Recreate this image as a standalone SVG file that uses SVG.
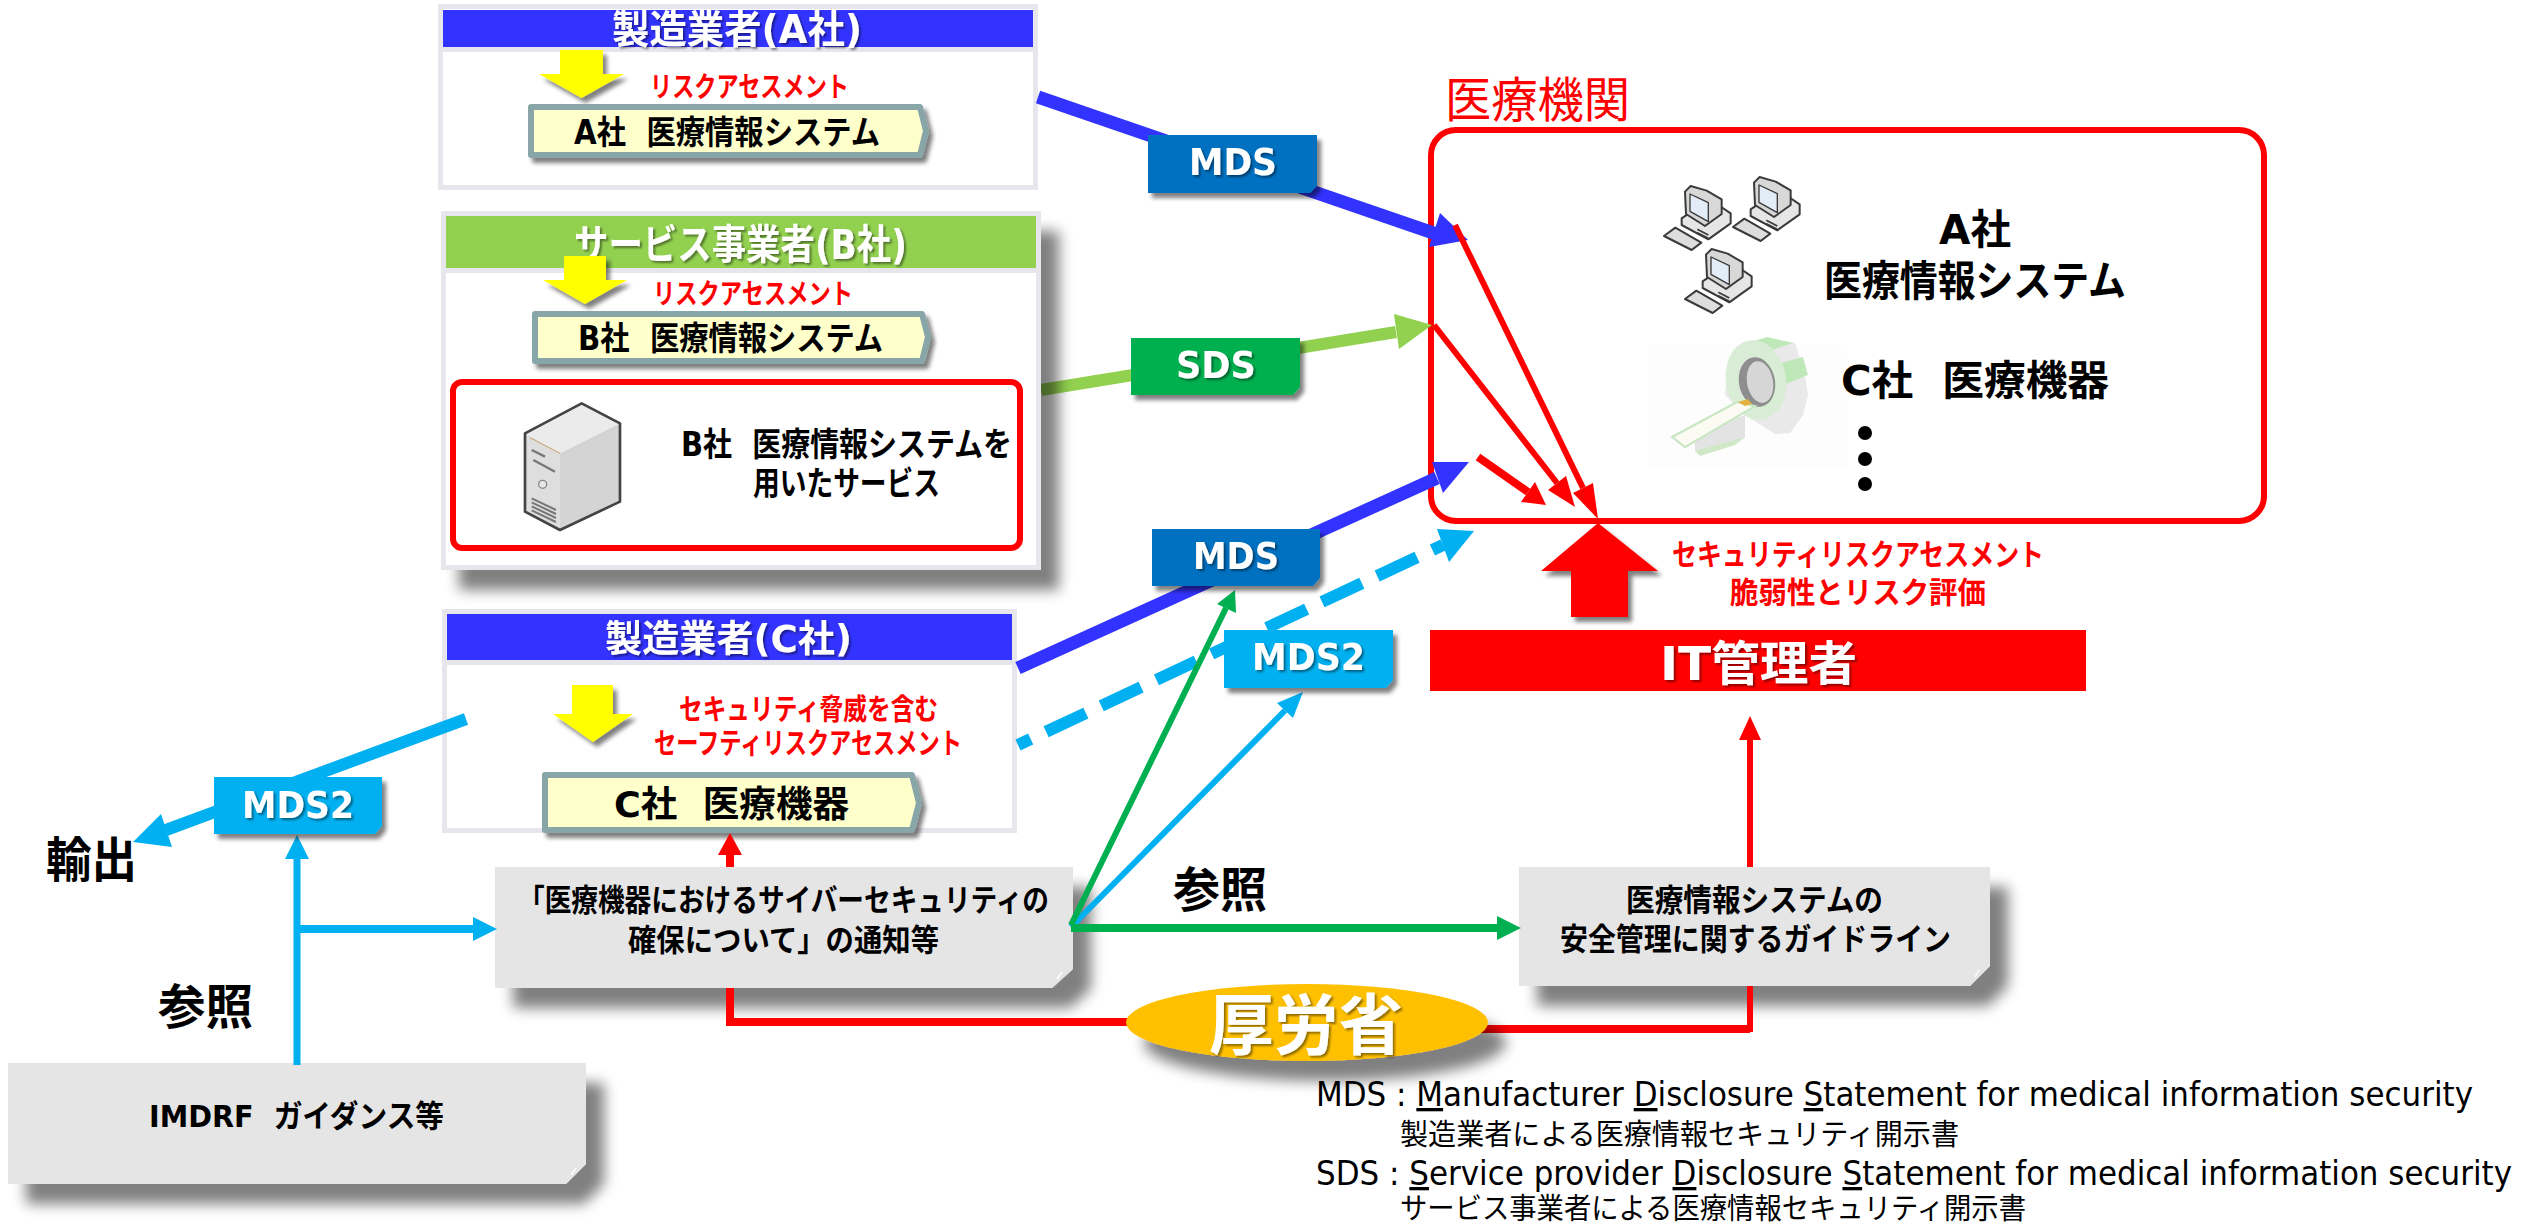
<svg xmlns="http://www.w3.org/2000/svg" width="2522" height="1226" viewBox="0 0 2522 1226">
<style>
text{font-family:"DejaVu Sans","Noto Sans CJK JP",sans-serif;white-space:pre}
.b{font-weight:700}
.w{fill:#fff}.k{fill:#000}.r{fill:#f00}
.frame{fill:#fff;stroke:#e7e6ec;stroke-width:5}
.band{fill:#e7e6ec}
.pent{fill:#ffc;stroke:#88a5a8;stroke-width:6;stroke-linejoin:round}
.yel{fill:#ff0}
.grey{fill:#e5e5e5}
.fold{fill:none;stroke:#fff;stroke-width:1.5}
.blue{stroke:#33f;fill:none}.bluef{fill:#33f}
.sky{stroke:#00b0f0;fill:none}.skyf{fill:#00b0f0}
.lime{stroke:#92d050;fill:none}.limef{fill:#92d050}
.grn{stroke:#00b050;fill:none}.grnf{fill:#00b050}
.red{stroke:#f00;fill:none}.redf{fill:#f00}
.u{text-decoration:underline}
</style>
<defs>
<filter id="sm" x="-20%" y="-20%" width="150%" height="150%"><feGaussianBlur in="SourceAlpha" stdDeviation="2"/><feOffset dx="4" dy="5"/><feComponentTransfer><feFuncA type="linear" slope=".5"/></feComponentTransfer><feMerge><feMergeNode/><feMergeNode in="SourceGraphic"/></feMerge></filter>
<filter id="lg" x="-15%" y="-20%" width="135%" height="170%"><feGaussianBlur in="SourceAlpha" stdDeviation="7"/><feOffset dx="18" dy="20"/><feComponentTransfer><feFuncA type="linear" slope=".5"/></feComponentTransfer><feMerge><feMergeNode/><feMergeNode in="SourceGraphic"/></feMerge></filter>
<filter id="ts" x="-10%" y="-20%" width="120%" height="140%"><feGaussianBlur in="SourceAlpha" stdDeviation="1"/><feOffset dx="1.5" dy="2"/><feComponentTransfer><feFuncA type="linear" slope=".45"/></feComponentTransfer><feMerge><feMergeNode/><feMergeNode in="SourceGraphic"/></feMerge></filter>
<g id="pc" transform="scale(.3333)" stroke="#3a3a3a" stroke-width="6" stroke-linejoin="round">
<path d="M125 145L150 128 235 105 272 130 272 160 205 208 125 165Z" fill="#e6e6e6"/>
<path d="M135 65L152 48 200 62 245 88 245 132 195 168 138 132Z" fill="#d8d8d8"/>
<path d="M150 72L205 98 205 155 150 124Z" fill="#e3edf8" stroke-width="4"/>
<path d="M172 178L205 195M172 188L205 205" stroke-width="5"/>
<path d="M72 198L106 173 184 218 155 240Z" fill="#ddd"/>
</g>
</defs>

<g id="hospital">
<rect x="1431" y="130" width="833" height="391" rx="25" fill="#fff" stroke="#f00" stroke-width="6"/>
<text class="r" x="1445" y="117" font-size="48" textLength="185" lengthAdjust="spacingAndGlyphs">医療機関</text>
<g id="computers">
<use href="#pc" x="1640" y="170"/>
<use href="#pc" x="1709" y="161"/>
<use href="#pc" x="1661" y="233"/>
</g>
<g id="ct-scanner">
<rect x="1648" y="345" width="199" height="125" fill="#fdfdfd"/>
<path d="M1695 432L1745 415 1745 438 1695 452Z" fill="#e3e3e3"/>
<path d="M1695 451L1745 437 1735 445 1700 456Z" fill="#cfe8c8"/>
<path d="M1745 346L1767 338 1795 343 1805 375 1808 395 1803 415 1790 433 1775 434 1745 415 1725 395 1728 365Z" fill="#e9e9e9"/>
<path d="M1745 344L1767 337 1793 343 1772 350Z" fill="#bfe8b8"/>
<path d="M1777 364L1803 357 1808 375 1783 385Z" fill="#bfe8b8"/>
<ellipse cx="1756" cy="380" rx="30" ry="40" fill="#d9ecd6" transform="rotate(-10 1756 380)"/>
<ellipse cx="1757" cy="382" rx="18" ry="25" fill="#8e8e8e" transform="rotate(-10 1757 382)"/>
<ellipse cx="1760" cy="382" rx="13" ry="21" fill="#d6d6d6" transform="rotate(-10 1760 382)"/>
<path d="M1672 437L1737 402 1755 406 1685 447Z" fill="#fbfbf3" stroke="#c5e6c0" stroke-width="2"/>
<path d="M1738 402L1748 399 1752 404 1745 406Z" fill="#e0b040"/>
</g>
<text class="b k" x="1939" y="244" font-size="41" textLength="72" lengthAdjust="spacingAndGlyphs">A社</text>
<text class="b k" x="1824" y="296" font-size="42" textLength="302" lengthAdjust="spacingAndGlyphs">医療情報システム</text>
<text class="b k" x="1841" y="395" font-size="41" textLength="268" lengthAdjust="spacingAndGlyphs">C社  医療機器</text>
<circle cx="1865" cy="433" r="7"/><circle cx="1865" cy="459" r="7"/><circle cx="1865" cy="484" r="7"/>
</g>

<g id="manufacturer-a">
<rect class="frame" x="440.5" y="6.5" width="595" height="181"/>
<rect x="443" y="10" width="590" height="37" fill="#33f"/>
<rect class="band" x="443" y="47" width="590" height="5"/>
<text class="b w" filter="url(#ts)" x="612" y="43" font-size="39" textLength="250" lengthAdjust="spacingAndGlyphs">製造業者(A社)</text>
<polygon class="yel" filter="url(#sm)" points="560,50 603,50 603,74 624,74 581.500,98 539,74 560,74"/>
<text class="b r" x="650" y="97" font-size="28" textLength="199" lengthAdjust="spacingAndGlyphs">リスクアセスメント</text>
<polygon class="pent" filter="url(#sm)" points="531,107 920,107 926,131 920,155 531,155"/>
<text class="b k" x="574" y="144" font-size="33" textLength="306" lengthAdjust="spacingAndGlyphs">A社  医療情報システム</text>
</g>

<g id="manufacturer-c">
<rect class="frame" x="444.500" y="611.500" width="570" height="219"/>
<rect x="447" y="614" width="565" height="46" fill="#33f"/>
<rect class="band" x="447" y="660" width="565" height="5"/>
<text class="b w" filter="url(#ts)" x="605" y="652" font-size="37" textLength="247" lengthAdjust="spacingAndGlyphs">製造業者(C社)</text>
<polygon class="yel" filter="url(#sm)" points="572,685 613,685 613,714 633,714 593,742 553,714 572,714"/>
<text class="b r" x="679" y="720" font-size="29" textLength="259" lengthAdjust="spacingAndGlyphs">セキュリティ脅威を含む</text>
<text class="b r" x="654" y="754" font-size="29" textLength="308" lengthAdjust="spacingAndGlyphs">セーフティリスクアセスメント</text>
<polygon class="pent" filter="url(#sm)" points="545,775 912,775 919,803 912,830 545,830"/>
<text class="b k" x="614" y="817" font-size="36" textLength="235" lengthAdjust="spacingAndGlyphs">C社  医療機器</text>
</g>

<g id="notification">
<polygon class="grey" filter="url(#lg)" points="495,867 1073,867 1073,969 1052,988 495,988"/>
<path class="fold" d="M1057 979L1062 972"/>
<text class="b k" x="518" y="911" font-size="31" textLength="531" lengthAdjust="spacingAndGlyphs">「医療機器におけるサイバーセキュリティの</text>
<text class="b k" x="628" y="951" font-size="31" textLength="311" lengthAdjust="spacingAndGlyphs">確保について」の通知等</text>
</g>

<g id="imdrf">
<polygon class="grey" filter="url(#lg)" points="8,1063 586,1063 586,1164 566,1184 8,1184"/>
<path class="fold" d="M571 1175L576 1168"/>
<text class="b k" x="149" y="1127" font-size="31" textLength="295" lengthAdjust="spacingAndGlyphs">IMDRF  ガイダンス等</text>
</g>

<g id="guideline">
<polygon class="grey" filter="url(#lg)" points="1519,867 1990,867 1990,966 1970,986 1519,986"/>
<path class="fold" d="M1975 977L1979 970"/>
<text class="b k" x="1626" y="911" font-size="31" textLength="257" lengthAdjust="spacingAndGlyphs">医療情報システムの</text>
<text class="b k" x="1560" y="950" font-size="31" textLength="391" lengthAdjust="spacingAndGlyphs">安全管理に関するガイドライン</text>
</g>

<g id="connectors">
<path class="blue" stroke-width="13" d="M1038 97L1448 238"/>
<polygon class="bluef" points="1468,240 1440,213 1429,247"/>
<path class="lime" stroke-width="12" d="M1041 390L1396 332"/>
<polygon class="limef" points="1432,325 1394,314 1399,349"/>
<path class="blue" stroke-width="13" d="M1018 668L1437 478"/>
<polygon class="bluef" points="1469,462 1432,462 1443,493"/>
<path class="sky" stroke-width="12" stroke-dasharray="44 17" stroke-dashoffset="30" d="M1018 745L1443 545"/>
<polygon class="skyf" points="1474,531 1437,529 1449,562"/>
<path class="sky" stroke-width="12" d="M466 719L166 830"/>
<polygon class="skyf" points="133,842 161,814 172,847"/>
<path class="sky" stroke-width="7" d="M297 1065V859"/>
<polygon class="skyf" points="297,835 285,859 309,859"/>
<path class="sky" stroke-width="8" d="M297 929H473"/>
<polygon class="skyf" points="497,929 473,917 473,941"/>
<path class="sky" stroke-width="6" d="M1071 927L1285 710.500"/>
<polygon class="skyf" points="1303,692 1293,718 1277,703"/>
<path class="grn" stroke-width="6" d="M1071 925L1226 608"/>
<polygon class="grnf" points="1235,590 1217,604 1236,613"/>
<path class="grn" stroke-width="8" d="M1071 928H1497"/>
<polygon class="grnf" points="1521,928 1497,916 1497,940"/>
<path class="red" stroke-width="6" d="M1455 225L1583 488"/>
<polygon class="redf" points="1598,519 1593,483 1573,493"/>
<path class="red" stroke-width="6" d="M1434 325L1557 483"/>
<polygon class="redf" points="1575,507 1566,476 1548,490"/>
<path class="red" stroke-width="8" d="M1478 457L1528 492"/>
<polygon class="redf" points="1546,505 1535,482 1521,502"/>
<path class="red" stroke-width="8" d="M730 867V855"/>
<polygon class="redf" points="730,833 718,855 742,855"/>
<path class="red" stroke-width="8" d="M730 988V1022H1130"/>
<path class="red" stroke-width="8" d="M1480 1029H1750"/>
<path class="red" stroke-width="6" d="M1750 1032V986M1750 867V740"/>
<polygon class="redf" points="1750,716 1739,740 1761,740"/>
</g>

<g id="service-b">
<rect class="frame" x="443.500" y="213.500" width="595" height="354" filter="url(#lg)"/>
<rect x="446" y="216" width="590" height="52" fill="#92d050"/>
<rect class="band" x="446" y="268" width="590" height="5"/>
<text class="b w" filter="url(#ts)" x="574" y="259" font-size="41" textLength="333" lengthAdjust="spacingAndGlyphs">サービス事業者(B社)</text>
<polygon class="yel" filter="url(#sm)" points="564,256 606,256 606,280 627,280 585,304 543,280 564,280"/>
<text class="b r" x="653" y="304" font-size="28" textLength="200" lengthAdjust="spacingAndGlyphs">リスクアセスメント</text>
<polygon class="pent" filter="url(#sm)" points="535,314 922,314 928,337 922,361 535,361"/>
<text class="b k" x="578" y="350" font-size="33" textLength="305" lengthAdjust="spacingAndGlyphs">B社  医療情報システム</text>
<rect x="453" y="382" width="567" height="166" rx="9" fill="#fff" stroke="#f00" stroke-width="6"/>
<g id="server" transform="translate(510 395) scale(.3333)" stroke-linejoin="round">
<path d="M45 115L215 25 330 85 150 175Z" fill="#ebebeb"/>
<path d="M150 175L330 85 330 320 150 405Z" fill="#d4d4d4"/>
<path d="M45 115L150 175 150 405 45 350Z" fill="#dedede"/>
<path d="M60 128L150 175" stroke="#c9a06a" stroke-width="3" fill="none"/>
<path d="M65 165L105 185M70 195L135 230" stroke="#777" stroke-width="7" fill="none"/>
<circle cx="98" cy="268" r="12" fill="#e8e8e8" stroke="#888" stroke-width="4"/>
<path d="M65 310L138 345M65 322L138 357M65 334L138 369M65 346L138 381" stroke="#777" stroke-width="6" fill="none"/>
<path d="M45 115L215 25 330 85 330 320 150 405 45 350Z" fill="none" stroke="#444" stroke-width="8"/>
</g>
<text class="b k" x="681" y="456" font-size="33" textLength="331" lengthAdjust="spacingAndGlyphs">B社  医療情報システムを</text>
<text class="b k" x="753" y="495" font-size="33" textLength="187" lengthAdjust="spacingAndGlyphs">用いたサービス</text>
</g>

<g id="tag-mds-a">
<polygon fill="#0070c0" filter="url(#sm)" points="1148,135 1317,135 1317,186 1310,193 1148,193"/>
<text class="b w" filter="url(#ts)" x="1189" y="175" font-size="37" textLength="88" lengthAdjust="spacingAndGlyphs">MDS</text>
</g>
<g id="tag-sds">
<polygon class="grnf" filter="url(#sm)" points="1131,338 1300,338 1300,387 1293,395 1131,395"/>
<text class="b w" filter="url(#ts)" x="1176" y="378" font-size="37" textLength="80" lengthAdjust="spacingAndGlyphs">SDS</text>
</g>
<g id="tag-mds-c">
<polygon fill="#0070c0" filter="url(#sm)" points="1152,529 1320,529 1320,578 1313,586 1152,586"/>
<text class="b w" filter="url(#ts)" x="1193" y="569" font-size="37" textLength="86" lengthAdjust="spacingAndGlyphs">MDS</text>
</g>
<g id="tag-mds2-right">
<polygon class="skyf" filter="url(#sm)" points="1224,630 1393,630 1393,680 1386,688 1224,688"/>
<text class="b w" filter="url(#ts)" x="1252" y="670" font-size="37" textLength="113" lengthAdjust="spacingAndGlyphs">MDS2</text>
</g>
<g id="tag-mds2-left">
<polygon class="skyf" filter="url(#sm)" points="214,777 382,777 382,826 375,834 214,834"/>
<text class="b w" filter="url(#ts)" x="242" y="818" font-size="37" textLength="112" lengthAdjust="spacingAndGlyphs">MDS2</text>
</g>

<g id="it-admin">
<rect x="1430" y="630" width="656" height="61" fill="#f00"/>
<text class="b w" filter="url(#ts)" x="1660" y="680" font-size="47" textLength="197" lengthAdjust="spacingAndGlyphs">IT管理者</text>
</g>
<g id="risk-arrow">
<polygon class="redf" filter="url(#sm)" points="1598,523 1658,571 1628,571 1628,617 1571,617 1571,571 1541,571"/>
<text class="b r" x="1672" y="565" font-size="30" textLength="372" lengthAdjust="spacingAndGlyphs">セキュリティリスクアセスメント</text>
<text class="b r" x="1730" y="603" font-size="30" textLength="256" lengthAdjust="spacingAndGlyphs">脆弱性とリスク評価</text>
</g>
<g id="mhlw">
<ellipse cx="1307" cy="1022.500" rx="181" ry="38.500" fill="#ffc000" filter="url(#lg)"/>
<text class="b w" filter="url(#ts)" x="1209" y="1049" font-size="66" textLength="194" lengthAdjust="spacingAndGlyphs">厚労省</text>
</g>
<g id="labels">
<text class="b k" x="46" y="877" font-size="48" textLength="91" lengthAdjust="spacingAndGlyphs">輸出</text>
<text class="b k" x="158" y="1024" font-size="48" textLength="95" lengthAdjust="spacingAndGlyphs">参照</text>
<text class="b k" x="1173" y="907" font-size="48" textLength="94" lengthAdjust="spacingAndGlyphs">参照</text>
<text class="k" x="1316" y="1106" font-size="33" textLength="1157" lengthAdjust="spacingAndGlyphs">MDS : <tspan class="u">M</tspan>anufacturer <tspan class="u">D</tspan>isclosure <tspan class="u">S</tspan>tatement for medical information security</text>
<text class="k" x="1400" y="1145" font-size="29" textLength="559" lengthAdjust="spacingAndGlyphs">製造業者による医療情報セキュリティ開示書</text>
<text class="k" x="1316" y="1185" font-size="33" textLength="1196" lengthAdjust="spacingAndGlyphs">SDS : <tspan class="u">S</tspan>ervice provider <tspan class="u">D</tspan>isclosure <tspan class="u">S</tspan>tatement for medical information security</text>
<text class="k" x="1400" y="1219" font-size="29" textLength="626" lengthAdjust="spacingAndGlyphs">サービス事業者による医療情報セキュリティ開示書</text>
</g>
</svg>
